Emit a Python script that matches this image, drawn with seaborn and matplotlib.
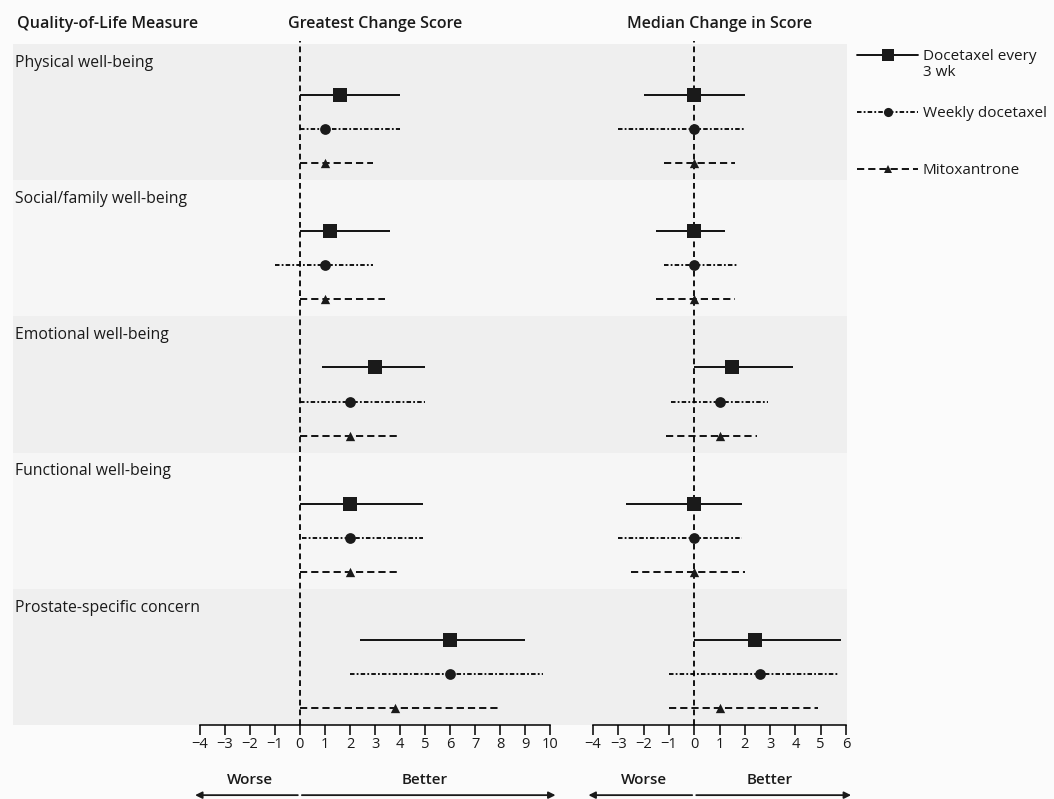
import numpy as np
import pandas as pd
import seaborn as sns
import matplotlib.pyplot as plt
from matplotlib.lines import Line2D

# Quality-of-life domains and treatment arms
categories = ["Physical well-being", "Social/family well-being", "Emotional well-being",
              "Functional well-being", "Prostate-specific concern"]
arms = ["Docetaxel every 3 wk", "Weekly docetaxel", "Mitoxantrone"]

# Greatest change score: estimate, lower and upper limit per arm
gc_q3w_est = [1.6, 1.2, 3.0, 2.0, 6.0]
gc_q3w_lo = [0.0, 0.0, 0.9, 0.0, 2.4]
gc_q3w_hi = [4.0, 3.6, 5.0, 4.9, 9.0]
gc_wk_est = [1.0, 1.0, 2.0, 2.0, 6.0]
gc_wk_lo = [0.0, -1.0, 0.0, 0.1, 2.0]
gc_wk_hi = [4.0, 2.9, 5.0, 4.9, 9.7]
gc_mit_est = [1.0, 1.0, 2.0, 2.0, 3.8]
gc_mit_lo = [0.0, 0.0, 0.0, 0.0, 0.0]
gc_mit_hi = [2.9, 3.4, 3.9, 4.0, 7.9]

# Median change in score
md_q3w_est = [0.0, 0.0, 1.5, 0.0, 2.4]
md_q3w_lo = [-2.0, -1.5, 0.0, -2.7, 0.0]
md_q3w_hi = [2.0, 1.2, 3.9, 1.9, 5.8]
md_wk_est = [0.0, 0.0, 1.0, 0.0, 2.6]
md_wk_lo = [-3.0, -1.2, -0.9, -3.0, -1.0]
md_wk_hi = [2.0, 1.7, 2.9, 1.9, 5.7]
md_mit_est = [0.0, 0.0, 1.0, 0.0, 1.0]
md_mit_lo = [-1.2, -1.5, -1.1, -2.5, -1.0]
md_mit_hi = [1.6, 1.6, 2.5, 2.0, 4.9]

gc_ticks = list(range(-4, 11))
md_ticks = list(range(-4, 7))


def build(est, lo, hi):
    rows = []
    for a, arm in enumerate(arms):
        for g, cat in enumerate(categories):
            rows.append({"arm": arm, "category": cat, "pos": 4 * g + 1.5 + a,
                         "est": est[a][g], "lo": lo[a][g], "hi": hi[a][g]})
    return pd.DataFrame(rows)


df_gc = build([gc_q3w_est, gc_wk_est, gc_mit_est],
              [gc_q3w_lo, gc_wk_lo, gc_mit_lo],
              [gc_q3w_hi, gc_wk_hi, gc_mit_hi])
df_md = build([md_q3w_est, md_wk_est, md_mit_est],
              [md_q3w_lo, md_wk_lo, md_mit_lo],
              [md_q3w_hi, md_wk_hi, md_mit_hi])

sns.set_theme(style="white")
plt.rcParams['font.family'] = ['Open Sans', 'DejaVu Sans']
INK = "#1a1a1a"

# style per arm: marker, size, line style
markers = {arms[0]: "s", arms[1]: "o", arms[2]: "^"}
msizes = {arms[0]: 100, arms[1]: 60, arms[2]: 45}
lstyles = {arms[0]: "solid", arms[1]: (0, (2.5, 1.2, 1, 1.2)), arms[2]: (0, (4, 2.2))}

W, H = 1054, 799
fig = plt.figure(figsize=(W / 100, H / 100), dpi=100)
fig.patch.set_facecolor("#fbfbfb")

top_px, bot_px = 44, 725
bottom = (H - bot_px) / H
height = (bot_px - top_px) / H

# background bands + row labels
bg = fig.add_axes([13 / W, bottom, (847 - 13) / W, height], zorder=0)
bg.set_xlim(0, 1)
bg.set_ylim(20, 0)
bg.axis("off")
for g, cat in enumerate(categories):
    bg.axhspan(4 * g, 4 * g + 4, color="#efefef" if g % 2 == 0 else "#f6f6f6", lw=0)
    bg.text(0.002, 4 * g + 0.55, cat, ha="left", va="center", fontsize=11.3, color=INK)

ax_gc = fig.add_axes([199.6 / W, bottom, (550.5 - 199.6) / W, height], zorder=1)
ax_md = fig.add_axes([593 / W, bottom, (846 - 593) / W, height], zorder=1)

panels = [(ax_gc, df_gc, gc_ticks, "Greatest Change Score"),
          (ax_md, df_md, md_ticks, "Median Change in Score")]

for ax, df, ticks, title in panels:
    ax.set_facecolor("none")
    ax.axvline(0, ymin=0, ymax=1.004, color="black", lw=1.3, ls=(0, (3.2, 2.2)), clip_on=False, zorder=1)
    for arm in arms:
        sub = df[df["arm"] == arm]
        ax.hlines(sub["pos"], sub["lo"], sub["hi"], colors="black", lw=1.3,
                  linestyles=[lstyles[arm]], zorder=2)
        sns.scatterplot(data=sub, x="est", y="pos", ax=ax, marker=markers[arm], s=msizes[arm],
                        color=INK, edgecolor=INK, linewidth=0, zorder=3, legend=False)
    ax.set_xlim(ticks[0], ticks[-1])
    ax.set_ylim(20, 0)
    ax.set_xticks(ticks)
    ax.set_yticks([])
    ax.set_xlabel("")
    ax.set_ylabel("")
    for s in ["top", "left", "right"]:
        ax.spines[s].set_visible(False)
    ax.spines["bottom"].set_color("black")
    ax.spines["bottom"].set_linewidth(1.1)
    ax.tick_params(axis="x", direction="out", length=7, width=1.1, color="black",
                   pad=2, labelsize=10.5, labelcolor=INK, bottom=True)
    ax.text(0.5, 1.029, title, transform=ax.transAxes, ha="center", va="center",
            fontsize=11.5, fontweight="semibold", color=INK)

    # Worse / Better arrows under the axis
    tr = ax.get_xaxis_transform()
    lo_x, hi_x = ticks[0], ticks[-1]
    ax.annotate("", xy=(lo_x - 0.18, -0.103), xytext=(-0.08, -0.103), xycoords=tr,
                arrowprops=dict(arrowstyle="-|>", color=INK, lw=1.3,
                                mutation_scale=10, shrinkA=0, shrinkB=0))
    ax.annotate("", xy=(hi_x + 0.2, -0.103), xytext=(0.08, -0.103), xycoords=tr,
                arrowprops=dict(arrowstyle="-|>", color=INK, lw=1.3,
                                mutation_scale=10, shrinkA=0, shrinkB=0))
    ax.text(lo_x / 2, -0.081, "Worse", transform=tr, ha="center", va="center",
            fontsize=11, fontweight="semibold", color=INK)
    ax.text(hi_x / 2, -0.081, "Better", transform=tr, ha="center", va="center",
            fontsize=11, fontweight="semibold", color=INK)

fig.text(17 / W, (H - 24) / H, "Quality-of-Life Measure", ha="left", va="center",
         fontsize=11.5, fontweight="semibold", color=INK)

# legend (first label wraps onto a second line, added below)
handles = [Line2D([], [], color="black", lw=1.3, ls=lstyles[a], marker=markers[a],
                  markersize=np.sqrt(msizes[a]) * 0.85, markerfacecolor=INK,
                  markeredgewidth=0) for a in arms]
leg_labels = ["Docetaxel every", arms[1], arms[2]]
leg = fig.legend(handles, leg_labels, loc="upper left", bbox_to_anchor=(857 / W, (H - 49) / H),
                 frameon=False, fontsize=11, handlelength=4.0, handletextpad=0.3,
                 labelspacing=2.75, borderpad=0, borderaxespad=0, labelcolor=INK)
fig.canvas.draw()
bb = leg.get_texts()[0].get_window_extent()
fig.text(bb.x0 / W, (bb.y0 - 1) / H, "3 wk", ha="left", va="top", fontsize=11, color=INK)

fig.savefig("out.png", dpi=100, facecolor=fig.get_facecolor())
